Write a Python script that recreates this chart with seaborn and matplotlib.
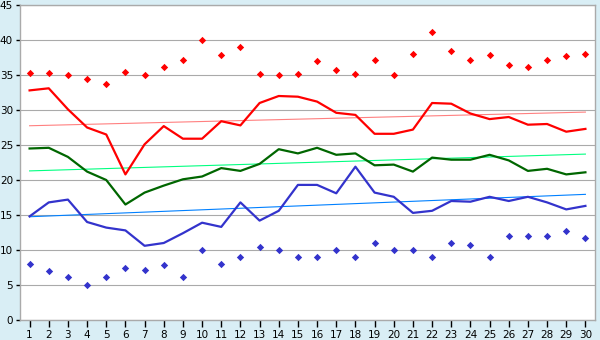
import matplotlib
matplotlib.use("Agg")
import matplotlib.pyplot as plt
import seaborn as sns
import pandas as pd

days = list(range(1, 31))
abs_max = [35.3, 35.3, 35.0, 34.4, 33.7, 35.4, 35.0, 36.1, 37.2, 40.0,
           37.8, 39.0, 35.2, 35.0, 35.1, 37.0, 35.7, 35.2, 37.2, 35.0,
           38.0, 41.1, 38.4, 37.2, 37.8, 36.5, 36.1, 37.2, 37.7, 38.0]
abs_min = [8.0, 7.0, 6.1, 5.0, 6.1, 7.4, 7.2, 7.8, 6.1, 10.0,
           8.0, 9.0, 10.4, 10.0, 9.0, 9.0, 10.0, 9.0, 11.0, 10.0,
           10.0, 9.0, 11.0, 10.7, 9.0, 12.0, 12.0, 12.0, 12.7, 11.7]
avg_max = [32.8, 33.1, 30.1, 27.5, 26.5, 20.8, 25.1, 27.7, 25.9, 25.9,
           28.4, 27.8, 31.0, 32.0, 31.9, 31.2, 29.6, 29.3, 26.6, 26.6,
           27.2, 31.0, 30.9, 29.5, 28.7, 29.0, 27.9, 28.0, 26.9, 27.3]
avg_mean = [24.5, 24.6, 23.3, 21.2, 20.0, 16.5, 18.2, 19.2, 20.1, 20.5,
            21.7, 21.3, 22.3, 24.4, 23.8, 24.6, 23.6, 23.8, 22.1, 22.2,
            21.2, 23.2, 22.9, 22.9, 23.6, 22.8, 21.3, 21.6, 20.8, 21.1]
avg_min = [14.8, 16.8, 17.2, 14.0, 13.2, 12.8, 10.6, 11.0, 12.4, 13.9,
           13.3, 16.8, 14.2, 15.6, 19.3, 19.3, 18.1, 21.9, 18.2, 17.6,
           15.3, 15.6, 17.0, 16.9, 17.6, 17.0, 17.6, 16.8, 15.8, 16.3]

# trend line end values (day 1 and day 30)
trend_days = [1, 30]
trend_max = [27.75, 29.7]
trend_mean = [21.3, 23.7]
trend_min = [14.75, 17.95]

df = pd.DataFrame({"day": days, "abs_max": abs_max, "abs_min": abs_min,
                   "avg_max": avg_max, "avg_mean": avg_mean, "avg_min": avg_min})
tdf = pd.DataFrame({"day": trend_days, "tmax": trend_max,
                    "tmean": trend_mean, "tmin": trend_min})

bg = "#D9EEF5"
fig = plt.figure(figsize=(6, 3.4), dpi=100, facecolor=bg)
ax = fig.add_axes([20/600, 20/340, 575/600, 315/340])
ax.set_facecolor("white")

# trend lines
sns.lineplot(data=tdf, x="day", y="tmax", ax=ax, color="#FF8080", lw=0.8, zorder=2)
sns.lineplot(data=tdf, x="day", y="tmean", ax=ax, color="#00FF80", lw=0.8, zorder=2)
sns.lineplot(data=tdf, x="day", y="tmin", ax=ax, color="#0080FF", lw=0.8, zorder=2)

# main lines
sns.lineplot(data=df, x="day", y="avg_max", ax=ax, color="#FF0000", lw=1.6, zorder=3)
sns.lineplot(data=df, x="day", y="avg_mean", ax=ax, color="#006600", lw=1.6, zorder=3)
sns.lineplot(data=df, x="day", y="avg_min", ax=ax, color="#3333CC", lw=1.6, zorder=3)

# extremes
sns.scatterplot(data=df, x="day", y="abs_max", ax=ax, color="#FF0000", marker="D",
                s=14, linewidth=0, zorder=4)
sns.scatterplot(data=df, x="day", y="abs_min", ax=ax, color="#3333CC", marker="D",
                s=14, linewidth=0, zorder=4)

ax.set_xlim(0.5, 30.5)
ax.set_ylim(0, 45)
ax.set_xticks(days)
ax.set_xticklabels([str(d) for d in days])
ax.set_yticks(range(0, 46, 5))
ax.set_xlabel("")
ax.set_ylabel("")
ax.yaxis.grid(True, color="#AAAAAA", lw=0.8)
ax.xaxis.grid(False)
ax.set_axisbelow(True)
for s in ax.spines.values():
    s.set_color("#AAAAAA")
    s.set_linewidth(1)
ax.tick_params(axis="x", length=5, width=1, color="black", labelsize=7.5, pad=2)
ax.tick_params(axis="y", length=3, width=1, color="black", labelsize=7.5, pad=2)

fig.savefig("out.png", dpi=100, facecolor=bg)
